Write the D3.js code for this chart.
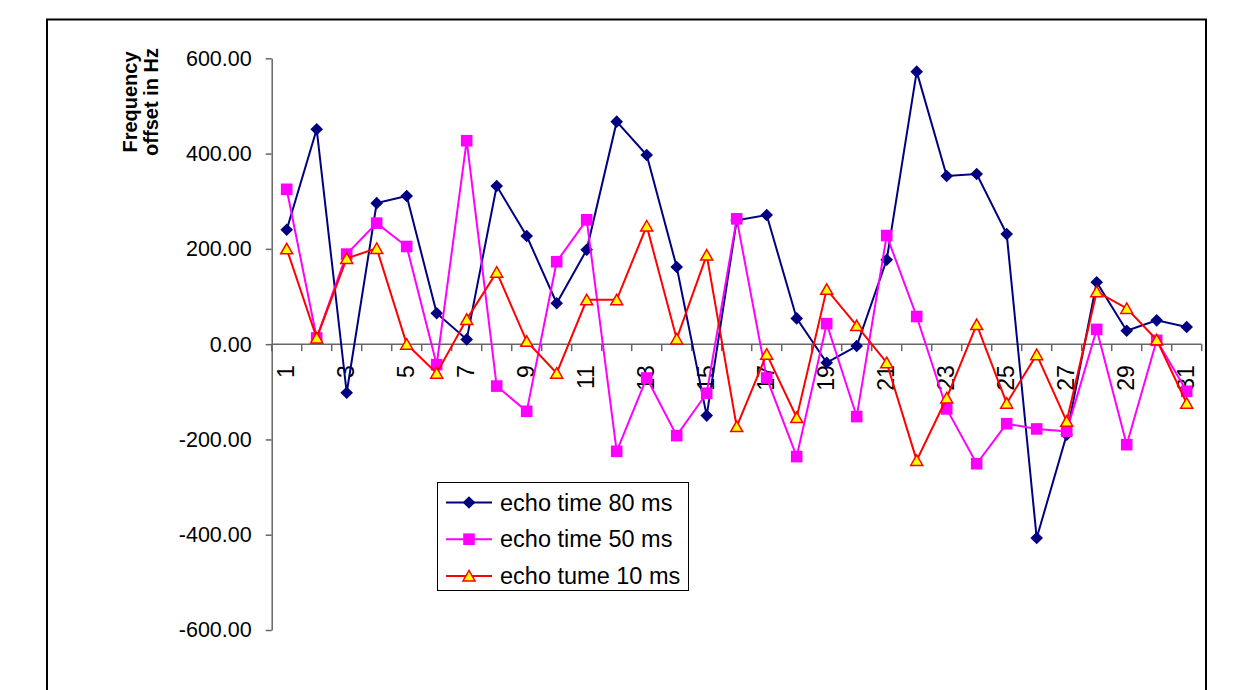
<!DOCTYPE html>
<html>
<head>
<meta charset="utf-8">
<script src="https://cdn.jsdelivr.net/npm/d3@7"></script>
<style>
  body { margin: 0; background: #fff; }
  svg { display: block; font-family: "Liberation Sans", Arial, sans-serif; }
</style>
</head>
<body>
<div id="chart"></div>
<script>
// categories along the x axis
const categories = [1, 2, 3, 4, 5, 6, 7, 8, 9, 10, 11, 12, 13, 14, 15, 16,
  17, 18, 19, 20, 21, 22, 23, 24, 25, 26, 27, 28, 29, 30, 31];

// frequency offset in Hz
const echo80 = [240, 451, -102, 296, 311, 65, 10, 332, 227, 86, 198, 467, 397, 162, -150, 260,
  271, 54, -39, -4, 177, 572, 353, 357, 231, -407, -190, 130, 28, 50, 36];
const echo50 = [325, 13, 189, 254, 205, -43, 427, -88, -141, 173, 261, -225, -71, -192, -103, 263,
  -71, -236, 43, -152, 228, 58, -136, -251, -167, -178, -183, 31, -211, 8, -99];
const echo10 = [200, 13, 180, 201, 0, -61, 52, 151, 6, -61, 93, 93, 248, 11, 187, -173,
  -21, -154, 115, 39, -39, -244, -113, 41, -124, -22, -162, 110, 75, 9, -124];

const seriesNames = ["echo time 80 ms", "echo time 50 ms", "echo tume 10 ms"];
const yTicks = [-600, -400, -200, 0, 200, 400, 600];
const yTitle = ["Frequency", "offset in Hz"];

/* CONSTANTS */
const width = 1234, height = 690;
const plot = {left: 271.7, right: 1201.7, top: 58.3, bottom: 630};
const axisColor = "#666";

const svg = d3.select("#chart").append("svg")
  .attr("width", width)
  .attr("height", height);

// chart area border (bottom edge runs off the picture)
svg.append("rect")
  .attr("x", 47).attr("y", 19.5)
  .attr("width", 1159).attr("height", 700)
  .attr("fill", "#fff")
  .attr("stroke", "#000")
  .attr("stroke-width", 2);

/* SCALES */
const x = d3.scaleBand()
  .domain(categories)
  .range([plot.left, plot.right]);

const y = d3.scaleLinear()
  .domain([-600, 600])
  .range([plot.bottom, plot.top]);

const cx = d => x(d) + x.bandwidth() / 2;

/* Y AXIS */
const yAxis = d3.axisLeft(y)
  .tickValues(yTicks)
  .tickFormat(d => d.toFixed(2))
  .tickSize(6)
  .tickSizeOuter(0)
  .tickPadding(14);

const yAxisGroup = svg.append("g")
  .attr("transform", `translate(${plot.left},0)`)
  .call(yAxis);

yAxisGroup.select(".domain").attr("stroke", axisColor).attr("stroke-width", 1.5);
yAxisGroup.selectAll(".tick line").attr("stroke", axisColor).attr("stroke-width", 1.5);
yAxisGroup.selectAll(".tick text")
  .attr("font-size", 21.5)
  .attr("font-family", "Liberation Sans, Arial, sans-serif")
  .attr("fill", "#000");

// y axis title, two lines
svg.selectAll(".ytitle")
  .data(yTitle)
  .join("text")
  .attr("class", "ytitle")
  .attr("transform", (d, i) => `translate(${137 + i * 21},102) rotate(-90)`)
  .attr("text-anchor", "middle")
  .attr("font-size", 20)
  .attr("font-weight", "bold")
  .text(d => d);

/* X AXIS (crosses at 0) */
const y0 = y(0);
svg.append("line")
  .attr("x1", plot.left).attr("x2", plot.right)
  .attr("y1", y0).attr("y2", y0)
  .attr("stroke", axisColor)
  .attr("stroke-width", 1.5);

// ticks sit between the categories
const boundaries = categories.map(d => x(d)).concat([x(categories[categories.length - 1]) + x.bandwidth()]);
svg.selectAll(".xtick")
  .data(boundaries)
  .join("line")
  .attr("class", "xtick")
  .attr("x1", d => d).attr("x2", d => d)
  .attr("y1", y0).attr("y2", y0 + 7)
  .attr("stroke", axisColor)
  .attr("stroke-width", 1.5);

// every second label, rotated
svg.selectAll(".xlabel")
  .data(categories.filter((d, i) => i % 2 === 0))
  .join("text")
  .attr("class", "xlabel")
  .attr("transform", d => `translate(${cx(d) - 1},${y0 + 21}) rotate(-90)`)
  .attr("text-anchor", "end")
  .attr("dy", "0.35em")
  .attr("font-size", 23)
  .text(d => d);

/* SERIES */
const diamond = "M0,-6.3L6.3,0L0,6.3L-6.3,0Z";
const square = "M-5.8,-5.8H5.8V5.8H-5.8Z";
const triangle = "M0,-5.5L6,5L-6,5Z";

const series = [
  {name: seriesNames[0], values: echo80, color: "#000080", marker: diamond, fill: "#000080", mstroke: "none"},
  {name: seriesNames[1], values: echo50, color: "#ff00ff", marker: square, fill: "#ff00ff", mstroke: "none"},
  {name: seriesNames[2], values: echo10, color: "#ff0000", marker: triangle, fill: "#ffff00", mstroke: "#ff0000"}
];

const lineGen = d3.line()
  .x((d, i) => cx(categories[i]))
  .y(d => y(d));

series.forEach(s => {
  const g = svg.append("g");
  g.append("path")
    .attr("d", lineGen(s.values))
    .attr("fill", "none")
    .attr("stroke", s.color)
    .attr("stroke-width", 2);
  g.selectAll("path.marker")
    .data(s.values)
    .join("path")
    .attr("class", "marker")
    .attr("transform", (d, i) => `translate(${cx(categories[i])},${y(d)})`)
    .attr("d", s.marker)
    .attr("fill", s.fill)
    .attr("stroke", s.mstroke)
    .attr("stroke-width", 1.5);
});

/* LEGEND */
const legend = svg.append("g");
legend.append("rect")
  .attr("x", 437.5).attr("y", 482.5)
  .attr("width", 251).attr("height", 108)
  .attr("fill", "#fff")
  .attr("stroke", "#000")
  .attr("stroke-width", 1);

const rows = legend.selectAll(".row")
  .data(series)
  .join("g")
  .attr("class", "row")
  .attr("transform", (d, i) => `translate(0,${502.5 + i * 36.7})`);

rows.append("line")
  .attr("x1", 446).attr("x2", 492)
  .attr("stroke", d => d.color)
  .attr("stroke-width", 2);
rows.append("path")
  .attr("transform", "translate(469,0)")
  .attr("d", d => d.marker)
  .attr("fill", d => d.fill)
  .attr("stroke", d => d.mstroke)
  .attr("stroke-width", 1.5);
rows.append("text")
  .attr("x", 500)
  .attr("dy", "0.35em")
  .attr("font-size", 23.5)
  .text(d => d.name);
</script>
</body>
</html>
